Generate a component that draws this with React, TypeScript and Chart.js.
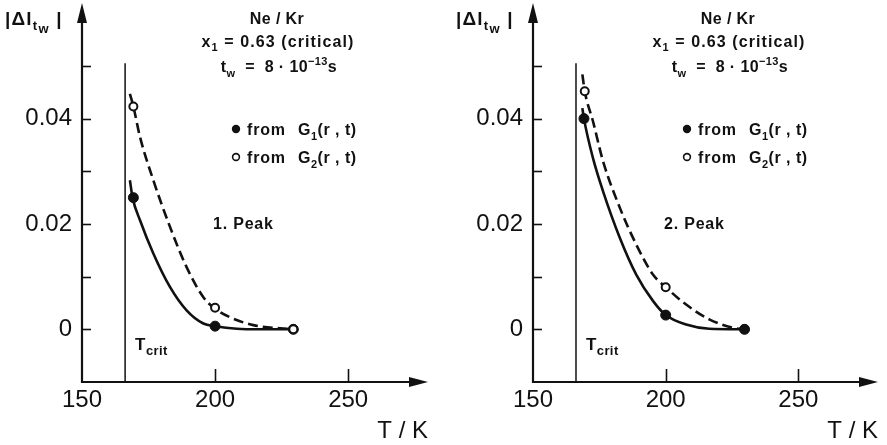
import React, { useEffect, useRef } from "react";
import { Chart, registerables } from "chart.js";

Chart.register(...registerables);

const FONT = '"Liberation Sans", Arial, sans-serif';
const INK = "#111111";

// axes
const TICKS_X = [150, 200, 250];
const TICKS_Y_MAJOR = [0, 0.02, 0.04];
const TICKS_Y_MINOR = [0.01, 0.03, 0.05];
const X_MIN = 150;
const X_MAX = 280;
const Y_MIN = -0.01;
const Y_MAX = 0.061;
const T_CRIT = 166.2;
const T_CRIT_TOP = 0.0505;

// Panel 1 (1. Peak)
const p1G1T = [169.3, 200, 229.4];
const p1G1V = [0.025, 0.0006, 0];
const p1G2T = [169.3, 200, 229.4];
const p1G2V = [0.0423, 0.0041, 0];
const p1CurveG1T = [168.0, 169.0, 171.8, 176.8, 183.1, 189.3, 195.6, 200, 208.2, 216.9, 229.4];
const p1CurveG1V = [0.0283, 0.025, 0.0207, 0.0144, 0.008, 0.0036, 0.0011, 0.0006, 0.0001, 0.0, 0];
const p1CurveG2T = [168.0, 169.3, 171.8, 176.8, 183.1, 189.3, 195.6, 199.8, 205.6, 214.4, 229.4];
const p1CurveG2V = [0.0447, 0.0423, 0.0365, 0.0283, 0.0194, 0.0118, 0.0061, 0.004, 0.0023, 0.0008, 0];

// Panel 2 (2. Peak)
const p2G1T = [169.2, 200, 229.7];
const p2G1V = [0.04, 0.0027, 0];
const p2G2T = [169.5, 200, 229.7];
const p2G2V = [0.0452, 0.008, 0];
const p2CurveG1T = [168.6, 169.2, 172.6, 176.4, 182.7, 188.9, 195.2, 200, 207.7, 216.4, 229.7];
const p2CurveG1V = [0.042, 0.04, 0.0325, 0.0262, 0.0174, 0.0104, 0.0054, 0.0027, 0.0009, 0.0001, 0];
const p2CurveG2T = [168.6, 169.5, 172.6, 176.4, 182.7, 188.9, 195.2, 200, 207.7, 216.4, 225.2, 229.7];
const p2CurveG2V = [0.0484, 0.0452, 0.0395, 0.0319, 0.0231, 0.0161, 0.0104, 0.008, 0.0047, 0.0019, 0.0003, 0];

const zip = (xs: number[], ys: number[]) => xs.map((x, i) => ({ x, y: ys[i] }));

type Seg = { t: string; k?: number; dy?: number };

function rich(
  ctx: CanvasRenderingContext2D,
  segs: Seg[],
  x: number,
  y: number,
  size: number,
  align: "left" | "center" | "right",
  spacing = 0,
  weight = "bold"
) {
  const fonts = segs.map((s) => `${weight} ${Math.round(size * (s.k ?? 1))}px ${FONT}`);
  (ctx as any).letterSpacing = `${spacing}px`;
  const widths = segs.map((s, i) => {
    ctx.font = fonts[i];
    return ctx.measureText(s.t).width;
  });
  const total = widths.reduce((a, b) => a + b, 0);
  let cx = align === "left" ? x : align === "center" ? x - total / 2 : x - total;
  ctx.textAlign = "left";
  ctx.textBaseline = "alphabetic";
  segs.forEach((s, i) => {
    ctx.font = fonts[i];
    ctx.fillText(s.t, cx, y + (s.dy ?? 0) * size);
    cx += widths[i];
  });
  (ctx as any).letterSpacing = "0px";
}

type PanelCfg = {
  peak: string;
  g1T: number[];
  g1V: number[];
  g2T: number[];
  g2V: number[];
  c1T: number[];
  c1V: number[];
  c2T: number[];
  c2V: number[];
  openOnTop: boolean;
};

const PANELS: PanelCfg[] = [
  {
    peak: "1. Peak",
    g1T: p1G1T, g1V: p1G1V, g2T: p1G2T, g2V: p1G2V,
    c1T: p1CurveG1T, c1V: p1CurveG1V, c2T: p1CurveG2T, c2V: p1CurveG2V,
    openOnTop: true,
  },
  {
    peak: "2. Peak",
    g1T: p2G1T, g1V: p2G1V, g2T: p2G2T, g2V: p2G2V,
    c1T: p2CurveG1T, c1V: p2CurveG1V, c2T: p2CurveG2T, c2V: p2CurveG2V,
    openOnTop: false,
  },
];

function Panel({ cfg, left, width, padRight }: { cfg: PanelCfg; left: number; width: number; padRight: number }) {
  const ref = useRef<HTMLCanvasElement>(null);
  useEffect(() => {
    const canvas = ref.current!;
    const deco = {
      id: "deco",
      afterDraw(chart: any) {
        const ctx: CanvasRenderingContext2D = chart.ctx;
        const { left: L, right: R, top: T, bottom: B } = chart.chartArea;
        const xs = chart.scales.x;
        const ys = chart.scales.y;
        ctx.save();
        ctx.strokeStyle = INK;
        ctx.fillStyle = INK;
        ctx.lineCap = "butt";
        // y axis with arrow
        ctx.lineWidth = 2.2;
        ctx.beginPath();
        ctx.moveTo(L, B + 1);
        ctx.lineTo(L, T + 4);
        ctx.stroke();
        ctx.beginPath();
        ctx.moveTo(L, T - 5);
        ctx.lineTo(L - 5, T + 15);
        ctx.lineTo(L + 5, T + 15);
        ctx.closePath();
        ctx.fill();
        // x axis with arrow
        ctx.beginPath();
        ctx.moveTo(L - 1, B);
        ctx.lineTo(R - 6, B);
        ctx.stroke();
        ctx.beginPath();
        ctx.moveTo(R, B);
        ctx.lineTo(R - 19, B - 5);
        ctx.lineTo(R - 19, B + 5);
        ctx.closePath();
        ctx.fill();
        // ticks
        ctx.lineWidth = 1.6;
        [...TICKS_Y_MAJOR, ...TICKS_Y_MINOR].forEach((v) => {
          const y = Math.round(ys.getPixelForValue(v)) + 0.5;
          ctx.beginPath();
          ctx.moveTo(L, y);
          ctx.lineTo(L + 9, y);
          ctx.stroke();
        });
        TICKS_X.slice(1).forEach((v) => {
          const x = Math.round(xs.getPixelForValue(v)) + 0.5;
          ctx.beginPath();
          ctx.moveTo(x, B);
          ctx.lineTo(x, B - 13);
          ctx.stroke();
        });
        // axis titles
        rich(ctx, [{ t: "|Δl" }, { t: "t", k: 0.7, dy: 0.25 }, { t: "w", k: 0.7, dy: 0.42 }, { t: " |" }], L - 77, 25, 19, "left", 1.2);
        rich(ctx, [{ t: "T / K" }], R, 438, 24, "right", 0, "normal");
        // header
        const hx = L + 195;
        rich(ctx, [{ t: "Ne / Kr" }], hx, 24, 16, "center", 0.4);
        rich(ctx, [{ t: "x" }, { t: "1", k: 0.7, dy: 0.3 }, { t: " = 0.63 (critical)" }], hx + 1, 46.5, 16, "center", 1.1);
        rich(ctx, [{ t: "t" }, { t: "w", k: 0.7, dy: 0.3 }, { t: "  =  8 · 10" }, { t: "−13", k: 0.7, dy: -0.45 }, { t: "s" }], hx + 2, 72, 16, "center", 0.4);
        // legend
        const lx = L + 154;
        ctx.beginPath();
        ctx.arc(lx, 129, 4.2, 0, Math.PI * 2);
        ctx.fill();
        ctx.lineWidth = 1.6;
        ctx.beginPath();
        ctx.arc(lx, 157, 3.4, 0, Math.PI * 2);
        ctx.stroke();
        rich(ctx, [{ t: "from" }], L + 165, 135, 16, "left", 0.8);
        rich(ctx, [{ t: "G" }, { t: "1", k: 0.7, dy: 0.3 }, { t: "(r , t)" }], L + 216, 135, 16, "left", 0.5);
        rich(ctx, [{ t: "from" }], L + 165, 163, 16, "left", 0.8);
        rich(ctx, [{ t: "G" }, { t: "2", k: 0.7, dy: 0.3 }, { t: "(r , t)" }], L + 216, 163, 16, "left", 0.5);
        // peak label
        rich(ctx, [{ t: cfg.peak }], L + 131, 229, 16, "left", 0.8);
        // Tcrit label
        const tcx = xs.getPixelForValue(T_CRIT);
        rich(ctx, [{ t: "T" }, { t: "crit", k: 0.75, dy: 0.3 }], tcx + 10, 350, 17, "left", 0.4);
        ctx.restore();
      },
    };

    const chart = new Chart(canvas, {
      type: "scatter",
      data: {
        datasets: [
          {
            label: "G1 points",
            data: zip(cfg.g1T, cfg.g1V),
            showLine: false,
            pointRadius: 5,
            pointBackgroundColor: INK,
            pointBorderColor: INK,
            pointBorderWidth: 1,
            order: cfg.openOnTop ? 2 : 1,
          },
          {
            label: "G2 points",
            data: zip(cfg.g2T, cfg.g2V),
            showLine: false,
            pointRadius: 4,
            pointBackgroundColor: "#ffffff",
            pointBorderColor: INK,
            pointBorderWidth: 2,
            order: cfg.openOnTop ? 1 : 2,
          },
          {
            label: "G1 curve",
            data: zip(cfg.c1T, cfg.c1V),
            showLine: true,
            borderColor: INK,
            borderWidth: 2.6,
            pointRadius: 0,
            cubicInterpolationMode: "monotone",
            order: 3,
          },
          {
            label: "G2 curve",
            data: zip(cfg.c2T, cfg.c2V),
            showLine: true,
            borderColor: INK,
            borderWidth: 2.6,
            borderDash: [10, 5],
            pointRadius: 0,
            cubicInterpolationMode: "monotone",
            order: 4,
          },
          {
            label: "Tcrit",
            data: [
              { x: T_CRIT, y: Y_MIN },
              { x: T_CRIT, y: T_CRIT_TOP },
            ],
            showLine: true,
            borderColor: INK,
            borderWidth: 1.5,
            pointRadius: 0,
            order: 5,
          },
        ],
      },
      options: {
        animation: false,
        responsive: false,
        devicePixelRatio: 1,
        events: [],
        layout: { padding: { left: 0, right: padRight, top: 8, bottom: 0 } },
        plugins: {
          legend: { display: false },
          tooltip: { enabled: false },
        },
        scales: {
          x: {
            type: "linear",
            min: X_MIN,
            max: X_MAX,
            grid: { display: false },
            border: { display: false },
            afterBuildTicks: (s: any) => {
              s.ticks = TICKS_X.map((v) => ({ value: v }));
            },
            afterFit: (s: any) => {
              s.height = 63;
              s.paddingLeft = 0;
              s.paddingRight = 0;
            },
            ticks: {
              color: INK,
              padding: -4,
              maxRotation: 0,
              font: { family: FONT, size: 24 },
              callback: (v: any) => String(v),
            },
          },
          y: {
            type: "linear",
            min: Y_MIN,
            max: Y_MAX,
            grid: { display: false },
            border: { display: false },
            afterBuildTicks: (s: any) => {
              s.ticks = TICKS_Y_MAJOR.map((v) => ({ value: v }));
            },
            afterFit: (s: any) => {
              s.width = 82;
              s.paddingTop = 0;
              s.paddingBottom = 0;
            },
            ticks: {
              color: INK,
              padding: 2,
              font: { family: FONT, size: 24 },
              callback: (v: any) => (Number(v) === 0 ? "0" : Number(v).toFixed(2)),
            },
          },
        },
      } as any,
      plugins: [deco],
    });
    return () => chart.destroy();
  }, [cfg, padRight]);
  return (
    <canvas
      ref={ref}
      width={width}
      height={445}
      style={{ position: "absolute", left, top: 0, width, height: 445 }}
    />
  );
}

export default function App() {
  return (
    <div style={{ position: "absolute", left: 0, top: 0, width: 887, height: 445, background: "#fff", overflow: "hidden" }}>
      <Panel cfg={PANELS[0]} left={0} width={445} padRight={17} />
      <Panel cfg={PANELS[1]} left={451} width={436} padRight={9} />
    </div>
  );
}
